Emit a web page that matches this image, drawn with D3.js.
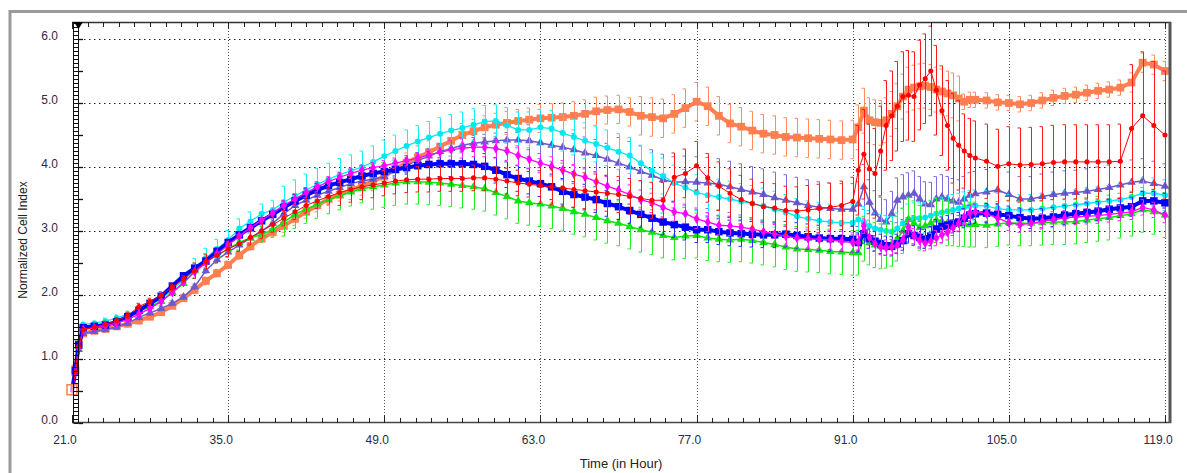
<!DOCTYPE html>
<html><head><meta charset="utf-8">
<script src="https://cdn.jsdelivr.net/npm/d3@7/dist/d3.min.js"></script>
<style>
html,body{margin:0;padding:0;background:#fff;}
svg{display:block;font-family:"Liberation Sans",Arial,sans-serif;}
</style></head>
<body><svg id="c" width="1187" height="473"></svg>
<script>
// ---------- DATA ----------
const times = [21,21.3,21.6,
 22,23,24,25,26,27,28,29,30,31,
 32,33,34,35,36,37,38,39,40,41,
 42,43,44,45,46,47,48,49,50,51,
 52,53,54,55,56,57,58,59,60,61,
 62,63,64,65,66,67,68,69,70,71,
 72,73,74,75,76,77,78,79,80,81,
 82,83,84,85,86,87,88,89,90,91,
 91.5,92,92.5,93,93.5,94,94.5,95,95.5,96,96.5,
 97,97.5,98,98.5,99,99.5,100,100.5,101,101.5,102,
 103,104,105,106,107,108,109,110,111,112,113,114,115,116,117,118,119];

const orange = [0.52,0.85,1.25,
 1.40,1.44,1.47,1.51,1.55,1.60,1.66,1.73,1.83,1.95,
 2.08,2.22,2.34,2.47,2.62,2.76,2.88,2.98,3.08,3.19,
 3.30,3.40,3.50,3.57,3.64,3.71,3.78,3.85,3.97,4.07,
 4.15,4.23,4.32,4.41,4.50,4.56,4.62,4.66,4.69,4.72,
 4.74,4.76,4.77,4.78,4.80,4.83,4.87,4.89,4.90,4.86,
 4.80,4.78,4.76,4.83,4.92,5.02,4.95,4.80,4.68,4.63,
 4.57,4.52,4.50,4.47,4.46,4.45,4.44,4.43,4.42,4.43,
 4.62,4.88,4.73,4.70,4.69,4.73,4.83,4.95,5.10,5.21,5.24,
 5.26,5.27,5.25,5.21,5.18,5.15,5.12,5.07,5.02,5.05,5.05,
 5.04,5.01,5.00,4.98,5.00,5.04,5.08,5.11,5.13,5.16,5.19,5.21,5.24,5.32,5.63,5.60,5.50];

const red = [0.50,0.80,1.20,
 1.46,1.50,1.54,1.60,1.68,1.82,1.90,2.00,2.12,2.25,
 2.38,2.52,2.62,2.72,2.80,2.90,3.00,3.10,3.20,3.30,
 3.40,3.47,3.54,3.60,3.65,3.69,3.72,3.75,3.78,3.80,
 3.81,3.81,3.82,3.82,3.82,3.83,3.83,3.81,3.78,3.75,
 3.73,3.71,3.69,3.67,3.65,3.63,3.61,3.59,3.57,3.54,
 3.51,3.48,3.48,3.84,3.90,4.02,3.83,3.70,3.59,3.49,
 3.43,3.38,3.36,3.32,3.31,3.33,3.35,3.37,3.40,3.46,
 3.95,4.20,3.97,3.90,4.25,4.65,4.80,4.95,5.10,5.12,5.10,
 5.28,5.38,5.50,5.20,4.88,4.65,4.45,4.34,4.25,4.18,4.14,
 4.09,4.01,4.05,4.03,4.04,4.05,4.07,4.08,4.08,4.08,4.08,4.08,4.09,4.60,4.80,4.65,4.50];

const purple = [0.45,0.78,1.15,
 1.40,1.43,1.46,1.50,1.56,1.65,1.72,1.79,1.87,1.97,
 2.13,2.38,2.55,2.67,2.78,2.89,3.00,3.12,3.27,3.40,
 3.48,3.56,3.62,3.68,3.74,3.78,3.81,3.85,3.95,4.03,
 4.10,4.17,4.24,4.29,4.34,4.37,4.39,4.41,4.42,4.42,
 4.41,4.38,4.34,4.31,4.27,4.22,4.18,4.12,4.06,4.00,
 3.93,3.87,3.80,3.76,3.77,3.76,3.75,3.73,3.69,3.65,
 3.61,3.57,3.52,3.48,3.44,3.40,3.37,3.35,3.34,3.34,
 3.42,3.69,3.45,3.28,3.18,3.14,3.27,3.48,3.53,3.56,3.59,
 3.50,3.42,3.41,3.50,3.53,3.50,3.47,3.45,3.50,3.56,3.58,
 3.61,3.64,3.57,3.50,3.50,3.54,3.57,3.59,3.60,3.62,3.65,3.68,3.72,3.76,3.78,3.74,3.70];

const cyan = [0.50,0.85,1.25,
 1.54,1.56,1.59,1.64,1.70,1.76,1.84,1.94,2.08,2.24,
 2.42,2.58,2.72,2.86,3.04,3.15,3.27,3.33,3.45,3.55,
 3.64,3.73,3.81,3.88,3.94,4.00,4.08,4.17,4.25,4.33,
 4.40,4.46,4.52,4.57,4.61,4.66,4.71,4.72,4.65,4.58,
 4.58,4.62,4.60,4.53,4.47,4.41,4.36,4.30,4.24,4.18,
 4.06,3.94,3.86,3.75,3.68,3.60,3.56,3.53,3.50,3.46,
 3.43,3.39,3.34,3.29,3.23,3.19,3.16,3.14,3.13,3.13,
 3.18,3.14,3.08,3.04,3.02,3.00,2.99,3.04,3.12,3.18,3.20,
 3.20,3.21,3.24,3.27,3.29,3.31,3.33,3.35,3.37,3.39,3.40,
 3.39,3.35,3.33,3.33,3.33,3.35,3.37,3.39,3.41,3.43,3.45,3.47,3.49,3.53,3.59,3.59,3.56];

const blue = [0.48,0.82,1.22,
 1.49,1.51,1.53,1.58,1.66,1.76,1.87,1.98,2.14,2.30,
 2.42,2.53,2.68,2.82,2.94,3.05,3.16,3.26,3.37,3.47,
 3.56,3.64,3.71,3.76,3.81,3.86,3.90,3.93,3.96,3.99,
 4.02,4.04,4.05,4.05,4.05,4.04,4.01,3.95,3.88,3.82,
 3.78,3.74,3.69,3.62,3.57,3.53,3.49,3.43,3.38,3.32,
 3.26,3.20,3.14,3.10,3.06,3.02,3.02,2.99,2.97,2.96,
 2.95,2.94,2.94,2.95,2.93,2.91,2.89,2.88,2.88,2.87,
 2.82,2.96,2.88,2.84,2.80,2.77,2.76,2.80,2.85,2.96,2.93,
 2.90,2.88,2.92,3.03,3.07,3.09,3.12,3.14,3.20,3.25,3.27,
 3.28,3.26,3.24,3.21,3.19,3.20,3.22,3.25,3.27,3.29,3.31,3.34,3.36,3.38,3.47,3.47,3.44];

const magenta = [0.48,0.80,1.18,
 1.46,1.49,1.52,1.56,1.62,1.70,1.79,1.90,2.04,2.20,
 2.36,2.50,2.64,2.78,2.92,3.05,3.17,3.28,3.40,3.50,
 3.60,3.69,3.77,3.84,3.90,3.95,3.99,4.02,4.06,4.10,
 4.14,4.19,4.23,4.27,4.29,4.31,4.31,4.29,4.25,4.18,
 4.12,4.06,4.01,3.95,3.89,3.84,3.77,3.70,3.64,3.57,
 3.49,3.44,3.37,3.30,3.27,3.19,3.14,3.09,3.08,3.06,
 3.03,2.99,2.95,2.92,2.89,2.88,2.87,2.86,2.84,2.82,
 2.82,3.08,2.90,2.80,2.75,2.74,2.75,2.78,2.86,3.06,2.92,
 2.85,2.81,2.84,2.89,2.94,2.98,3.05,3.12,3.22,3.28,3.30,
 3.27,3.20,3.13,3.10,3.12,3.15,3.18,3.20,3.22,3.23,3.24,3.26,3.28,3.30,3.37,3.33,3.25];

const green = [0.50,0.82,1.20,
 1.47,1.50,1.53,1.58,1.65,1.74,1.82,1.90,2.04,2.18,
 2.38,2.52,2.62,2.72,2.82,2.89,2.95,3.02,3.14,3.26,
 3.34,3.42,3.49,3.55,3.61,3.66,3.69,3.72,3.75,3.77,
 3.77,3.76,3.75,3.73,3.71,3.69,3.66,3.60,3.54,3.47,
 3.44,3.42,3.39,3.35,3.30,3.26,3.21,3.16,3.12,3.07,
 3.02,2.98,2.93,2.90,2.92,2.93,2.89,2.87,2.86,2.87,
 2.85,2.82,2.79,2.75,2.72,2.71,2.70,2.68,2.67,2.66,
 2.66,2.88,2.82,2.78,2.76,2.77,2.80,2.88,3.00,3.18,3.12,
 3.05,3.08,3.12,3.17,3.15,3.12,3.12,3.11,3.11,3.10,3.10,
 3.09,3.11,3.13,3.12,3.12,3.13,3.14,3.14,3.15,3.17,3.19,3.21,3.24,3.27,3.33,3.30,3.25];

// standard deviation read as [from time, sd] steps
const orangeSD  = [[21,0],[24,0.03],[32,0.06],[40,0.1],[46,0.15],[52,0.18],[63,0.22],[72,0.3],[91.5,0.35],[101,0.12],[116,0.15]];
const redSD     = [[21,0],[24,0.05],[32,0.12],[45,0.2],[63,0.28],[75,0.38],[91.5,0.7],[101,0.58],[116,1.0]];
const purpleSD  = [[21,0],[24,0.04],[35,0.08],[50,0.12],[62,0.25],[70,0.4],[91.5,0.35]];
const cyanSD    = [[21,0],[24,0.05],[32,0.15],[40,0.25],[60,0.28],[91.5,0.24]];
const blueSD    = [[21,0],[24,0.03],[40,0.1],[52,0.2],[91.5,0.15]];
const magentaSD = [[21,0],[24,0.03],[40,0.08],[55,0.15],[91.5,0.12]];
const greenSD   = [[21,0],[24,0.04],[32,0.12],[40,0.22],[48,0.35],[91.5,0.35]];

const xTickValues = [21,35,49,63,77,91,105,119];
const xTickLabels = ["21.0","35.0","49.0","63.0","77.0","91.0","105.0","119.0"];
const yTickValues = [0,1,2,3,4,5,6];
const yTickLabels = ["0.0","1.0","2.0","3.0","4.0","5.0","6.0"];
const xTitle = "Time (in Hour)";
const yTitle = "Normalized Cell Index";

// ---------- CHART ----------
const svg = d3.select("#c");
const X0 = 72, X1 = 1165, Y0 = 423, Y6 = 39, TOP = 22, RIGHT = 1170;
const x = d3.scaleLinear().domain([21,119]).range([X0,X1]);
const y = d3.scaleLinear().domain([0,6]).range([Y0,Y6]);

// outer panel border
svg.append("line").attr("x1",10).attr("x2",10).attr("y1",10).attr("y2",473).attr("stroke","#9a9a9a").attr("stroke-width",3);
svg.append("line").attr("x1",9).attr("x2",1187).attr("y1",11.5).attr("y2",11.5).attr("stroke","#9a9a9a").attr("stroke-width",3);

// grid
const grid = svg.append("g");
grid.selectAll("line.h").data(yTickValues.filter(v=>v>0)).join("line")
  .attr("x1",79).attr("x2",X1).attr("y1",d=>Math.round(y(d))+0.5).attr("y2",d=>Math.round(y(d))+0.5)
  .attr("stroke","#222").attr("stroke-width",1).attr("stroke-dasharray","1.5,3.5");
grid.selectAll("line.v").data(xTickValues.filter(v=>v>21)).join("line")
  .attr("x1",d=>Math.round(x(d))+0.5).attr("x2",d=>Math.round(x(d))+0.5).attr("y1",TOP).attr("y2",Y0)
  .attr("stroke","#555").attr("stroke-width",1).attr("stroke-dasharray","1,2");

// series
function sdAt(steps,t){let s=0;for(const st of steps){if(t>=st[0]) s=st[1];}return s;}
const series = [
  {vals:orange, sd:orangeSD, color:"#ff7f50", bar:"#ff8c5a", lw:4,   sym:d3.symbolSquare,   size:60},
  {vals:purple, sd:purpleSD, color:"#6a5acd", bar:"#7b6be0", lw:1.5, sym:d3.symbolTriangle, size:32},
  {vals:cyan,   sd:cyanSD,   color:"#00e8f0", bar:"#10f0ff", lw:1.3, sym:d3.symbolCircle,   size:28},
  {vals:green,  sd:greenSD,  color:"#11e011", bar:"#22ee22", lw:1.5, sym:d3.symbolTriangle, size:32},
  {vals:blue,   sd:blueSD,   color:"#0000ff", bar:"#2a2aff", lw:4,   sym:d3.symbolSquare,   size:56},
  {vals:magenta,sd:magentaSD,color:"#ff00ff", bar:"#ff22ff", lw:1.3, sym:d3.symbolDiamond,  size:30},
  {vals:red,    sd:redSD,    color:"#ff0000", bar:"#ff1a1a", lw:1,   sym:d3.symbolCircle,   size:20}
];
const line = d3.line().x(d=>x(d.t)).y(d=>y(d.v));
series.forEach(s=>{
  const pts = times.map((t,i)=>({t:t, v:s.vals[i], e:sdAt(s.sd,t)}));
  const g = svg.append("g");
  const eb = g.append("g").attr("stroke",s.bar).attr("stroke-width",1).attr("fill","none");
  pts.filter(p=>p.e>0).forEach(p=>{
    const cx = Math.round(x(p.t))+0.5, yt = y(p.v+p.e), yb = y(p.v-p.e);
    eb.append("path").attr("d",`M${cx-3},${yt}H${cx}V${yb}H${cx-3}`);
  });
  g.append("path").datum(pts).attr("d",line).attr("fill","none").attr("stroke",s.color).attr("stroke-width",s.lw);
  g.selectAll("path.m").data(pts.slice(1)).join("path")
    .attr("transform",d=>`translate(${x(d.t)},${y(d.v)})`)
    .attr("d",d3.symbol().type(s.sym).size(s.size)).attr("fill",s.color);
});
// first orange point shown as an open square
svg.append("path").attr("transform",`translate(${x(times[0])},${y(orange[0])})`)
  .attr("d",d3.symbol().type(d3.symbolSquare).size(100)).attr("fill","#fff").attr("fill-opacity",0.6).attr("stroke","#ff7f50").attr("stroke-width",1.5);

// plot frame
const fr = svg.append("g").attr("stroke","#333").attr("fill","none");
fr.append("line").attr("x1",X0).attr("x2",RIGHT+1).attr("y1",TOP+0.5).attr("y2",TOP+0.5).attr("stroke-width",1.5);
fr.append("line").attr("x1",X0).attr("x2",RIGHT+1).attr("y1",Y0-0.5).attr("y2",Y0-0.5).attr("stroke","#444").attr("stroke-width",1.5);
fr.append("line").attr("x1",RIGHT).attr("x2",RIGHT).attr("y1",TOP).attr("y2",Y0).attr("stroke","#555").attr("stroke-width",3);

// y axis ladder
const yl = svg.append("g").attr("stroke","#111").attr("stroke-width",1);
yl.append("line").attr("x1",73.5).attr("x2",73.5).attr("y1",TOP).attr("y2",Y0);
yl.append("line").attr("x1",78.5).attr("x2",78.5).attr("y1",TOP).attr("y2",Y0);
yl.selectAll("line.r").data(d3.range(0,6.3,1/16)).join("line")
  .attr("x1",73.5).attr("x2",78.5).attr("y1",d=>Math.round(y(d))+0.5).attr("y2",d=>Math.round(y(d))+0.5);
yl.selectAll("line.t").data(d3.range(0,6.01,0.5)).join("line")
  .attr("x1",78.5).attr("x2",83).attr("y1",d=>Math.round(y(d))+0.5).attr("y2",d=>Math.round(y(d))+0.5).attr("stroke-width",1.3);

// x axis ticks (bottom and top)
const xt = svg.append("g").attr("stroke","#222").attr("stroke-width",1);
const minor = d3.range(21,119.01,1.4);
xt.selectAll("line.b").data(minor).join("line")
  .attr("x1",d=>Math.round(x(d))+0.5).attr("x2",d=>Math.round(x(d))+0.5)
  .attr("y1",Y0).attr("y2",(d,i)=> i%10===0 ? Y0-8 : Y0-5);
xt.selectAll("line.tp").data(minor).join("line")
  .attr("x1",d=>Math.round(x(d))+0.5).attr("x2",d=>Math.round(x(d))+0.5)
  .attr("y1",TOP).attr("y2",(d,i)=> i%10===0 ? TOP+7 : TOP+5);
// triangle marker top-left
svg.append("path").attr("d","M74,22 L83,22 L78.5,29 Z").attr("fill","#000");

// labels
const lab = svg.append("g").attr("fill","#2b2b45").attr("font-size",12);
lab.selectAll("text.y").data(yTickValues).join("text")
  .attr("x",58).attr("y",d=>y(d)-3).attr("dy","0.35em").attr("text-anchor","end")
  .text((d,i)=>yTickLabels[i]);
lab.selectAll("text.x").data(xTickValues).join("text")
  .attr("x",d=>x(d)-7).attr("y",444).attr("text-anchor","middle")
  .text((d,i)=>xTickLabels[i]);
svg.append("text").attr("x",621).attr("y",468).attr("text-anchor","middle")
  .attr("font-size",13).attr("fill","#222").text(xTitle);
svg.append("text").attr("transform","translate(27,240) rotate(-90)").attr("text-anchor","middle")
  .attr("font-size",12).attr("fill","#222").text(yTitle);
</script></body></html>
